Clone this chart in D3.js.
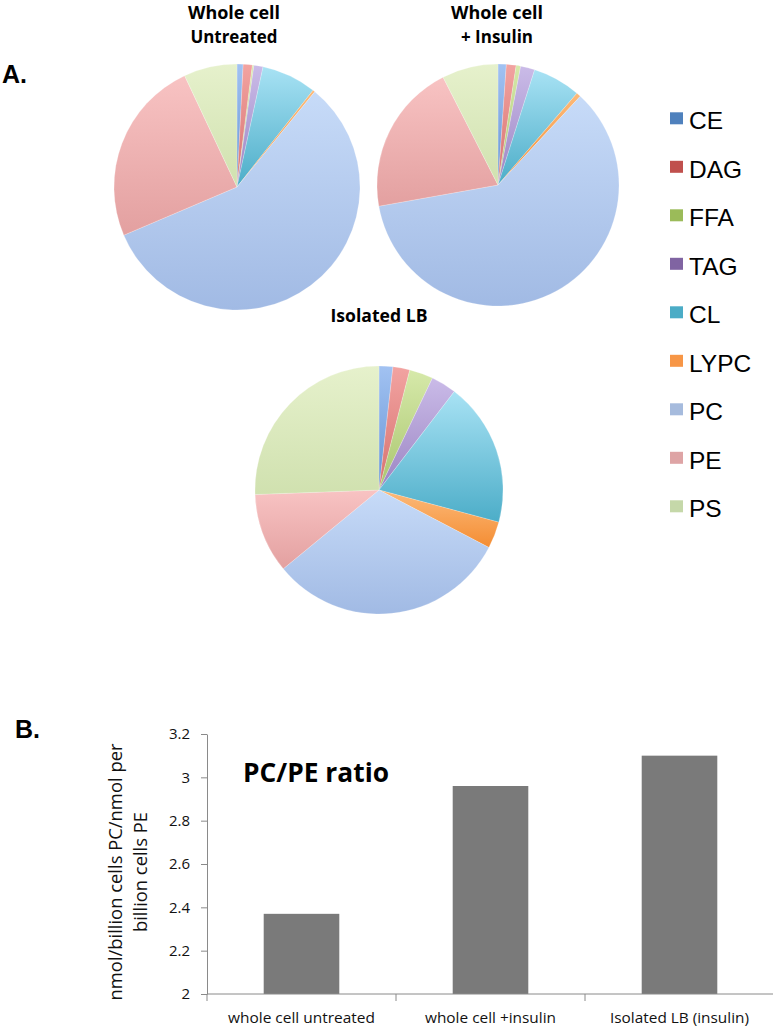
<!DOCTYPE html>
<html>
<head>
<meta charset="utf-8">
<script src="https://cdn.jsdelivr.net/npm/d3@7"></script>
<style>
  html, body { margin: 0; padding: 0; background: #fff; }
  svg { display: block; }
</style>
</head>
<body>
<svg id="chart" width="773" height="1028"></svg>
<script>
// ---------- DATA ----------
const lipidClasses = ["CE", "DAG", "FFA", "TAG", "CL", "LYPC", "PC", "PE", "PS"];
const wholeCellUntreated = [0.8, 1.2, 0.2, 1.2, 7.2, 0.3, 57.7, 24.4, 7.0];
const wholeCellInsulin   = [1.1, 1.3, 0.6, 1.9, 6.4, 0.6, 60.3, 20.3, 7.5];
const isolatedLB         = [1.8, 2.2, 3.1, 3.3, 18.8, 3.5, 31.4, 10.4, 25.6];

const barCategories = ["whole cell untreated", "whole cell +insulin", "Isolated LB (insulin)"];
const pcPeRatio = [2.37, 2.96, 3.10];
const yTickValues = [2, 2.2, 2.4, 2.6, 2.8, 3, 3.2];

// ---------- STYLES ----------
const legendColors = ["#4f81bd", "#c0504d", "#9bbb59", "#8064a2", "#4bacc6", "#f79646", "#a6bbdd", "#dea4a5", "#c5d8a9"];
const sliceLight = ["#a2c2f2", "#f2a3a1", "#d6e9aa", "#cabbe8", "#a8e2f4", "#fcba7a", "#c7dbf8", "#f8c3c3", "#e6f1cc"];
const sliceDark  = ["#6493d2", "#d6716e", "#a9c56e", "#9b84c2", "#4cadc8", "#f48d33", "#a1bae4", "#e3a0a0", "#d0e1af"];

const svg = d3.select("#chart");
svg.append("rect").attr("width", 773).attr("height", 1028).attr("fill", "#fff");
const defs = svg.append("defs");

lipidClasses.forEach((c, i) => {
  const g = defs.append("linearGradient")
    .attr("id", `g${i}`)
    .attr("x1", 0).attr("y1", 0).attr("x2", 0).attr("y2", 1);
  g.append("stop").attr("offset", "0%").attr("stop-color", sliceLight[i]);
  g.append("stop").attr("offset", "100%").attr("stop-color", sliceDark[i]);
});

// ---------- PIES ----------
const pies = [
  { values: wholeCellUntreated, cx: 237, cy: 187, r: 123, title: ["Whole cell", "Untreated"], tx: 234, tl: [92, 87], ty: [19, 43] },
  { values: wholeCellInsulin, cx: 498, cy: 185, r: 121, title: ["Whole cell", "+ Insulin"], tx: 497, tl: [92, 72], ty: [19, 43] },
  { values: isolatedLB, cx: 379, cy: 490, r: 124, title: ["Isolated LB"], tx: 379, tl: [97], ty: [322] }
];

const pieGen = d3.pie().sort(null).value(d => d.v);

pies.forEach(p => {
  const arc = d3.arc().innerRadius(0).outerRadius(p.r);
  const data = lipidClasses.map((c, i) => ({ c, v: p.values[i], i }));
  const g = svg.append("g").attr("transform", `translate(${p.cx},${p.cy})`);
  g.selectAll("path").data(pieGen(data)).join("path")
    .attr("d", arc)
    .attr("fill", d => `url(#g${d.data.i})`)
    .attr("stroke", "#ffffff")
    .attr("stroke-opacity", 0.4)
    .attr("stroke-width", 0.5);

  p.title.forEach((t, k) => {
    svg.append("text")
      .attr("x", p.tx).attr("y", p.ty[k])
      .attr("text-anchor", "middle")
      .attr("font-family", "'Open Sans', sans-serif")
      .attr("font-weight", "bold")
      .attr("font-size", 17)
      .attr("textLength", p.tl[k])
      .attr("lengthAdjust", "spacingAndGlyphs")
      .attr("fill", "#000")
      .text(t);
  });
});

// ---------- LEGEND ----------
const legend = svg.append("g");
lipidClasses.forEach((c, i) => {
  const by = 129.3 + i * 48.5;
  legend.append("rect").attr("x", 670).attr("y", by - 17).attr("width", 13).attr("height", 12)
    .attr("fill", legendColors[i]);
  legend.append("text").attr("x", 689).attr("y", by)
    .attr("font-family", "'Liberation Sans', Arial, sans-serif")
    .attr("font-size", 24.5)
    .attr("fill", "#000")
    .text(c);
});

// ---------- PANEL LABELS ----------
svg.append("text").attr("x", 2).attr("y", 83)
  .attr("font-family", "'Liberation Sans', Arial, sans-serif").attr("font-weight", "bold").attr("font-size", 25)
  .text("A.");
svg.append("text").attr("x", 15).attr("y", 738)
  .attr("font-family", "'Liberation Sans', Arial, sans-serif").attr("font-weight", "bold").attr("font-size", 25)
  .text("B.");

// ---------- BAR CHART ----------
const x = d3.scaleBand().domain(barCategories).range([207, 774]).paddingInner(0.6).paddingOuter(0.3);
const y = d3.scaleLinear().domain([2, 3.2]).range([994, 734]);

svg.append("g").selectAll("rect").data(barCategories).join("rect")
  .attr("x", d => x(d))
  .attr("y", (d, i) => y(pcPeRatio[i]))
  .attr("width", x.bandwidth())
  .attr("height", (d, i) => y(2) - y(pcPeRatio[i]))
  .attr("fill", "#7a7a7a");

const yAxis = svg.append("g").attr("transform", "translate(207,0)")
  .call(d3.axisLeft(y).tickValues(yTickValues).tickSize(6).tickSizeOuter(0).tickPadding(11)
    .tickFormat(d => String(+d.toFixed(1))));
yAxis.select(".domain").attr("stroke", "#8a8a8a");
yAxis.selectAll(".tick line").attr("stroke", "#8a8a8a");
yAxis.selectAll(".tick text").attr("font-family", "'Open Sans', sans-serif").attr("font-size", 15).attr("fill", "#111");

// x axis
const xAxisG = svg.append("g");
xAxisG.append("line").attr("x1", 207).attr("x2", 773).attr("y1", y(2)).attr("y2", y(2)).attr("stroke", "#8a8a8a");
const step = x.step();
d3.range(barCategories.length + 1).forEach(k => {
  const bx = x.range()[0] + k * step;
  xAxisG.append("line").attr("x1", bx).attr("x2", bx).attr("y1", y(2)).attr("y2", y(2) + 7).attr("stroke", "#8a8a8a");
});
const xLabelLen = [147, 131, 139];
barCategories.forEach((c, i) => {
  xAxisG.append("text")
    .attr("x", x(c) + x.bandwidth() / 2)
    .attr("y", 1023)
    .attr("text-anchor", "middle")
    .attr("font-family", "'Open Sans', sans-serif")
    .attr("font-size", 15)
    .attr("textLength", xLabelLen[i])
    .attr("lengthAdjust", "spacingAndGlyphs")
    .attr("fill", "#111")
    .text(c);
});

// chart title
svg.append("text").attr("x", 243).attr("y", 782)
  .attr("font-family", "'Open Sans', sans-serif").attr("font-weight", "bold").attr("font-size", 27)
  .attr("textLength", 146).attr("lengthAdjust", "spacingAndGlyphs")
  .text("PC/PE ratio");

// y label (two lines)
const yLabel = [["nmol/billion cells PC/nmol per", 115, 257], ["billion cells PE", 140, 120]];
yLabel.forEach(([t, lx, len]) => {
  svg.append("text")
    .attr("transform", `translate(${lx},872) rotate(-90)`)
    .attr("text-anchor", "middle")
    .attr("dominant-baseline", "central")
    .attr("font-family", "'Open Sans', sans-serif")
    .attr("font-size", 18)
    .attr("textLength", len)
    .attr("lengthAdjust", "spacingAndGlyphs")
    .attr("fill", "#111")
    .text(t);
});
</script>
</body>
</html>
